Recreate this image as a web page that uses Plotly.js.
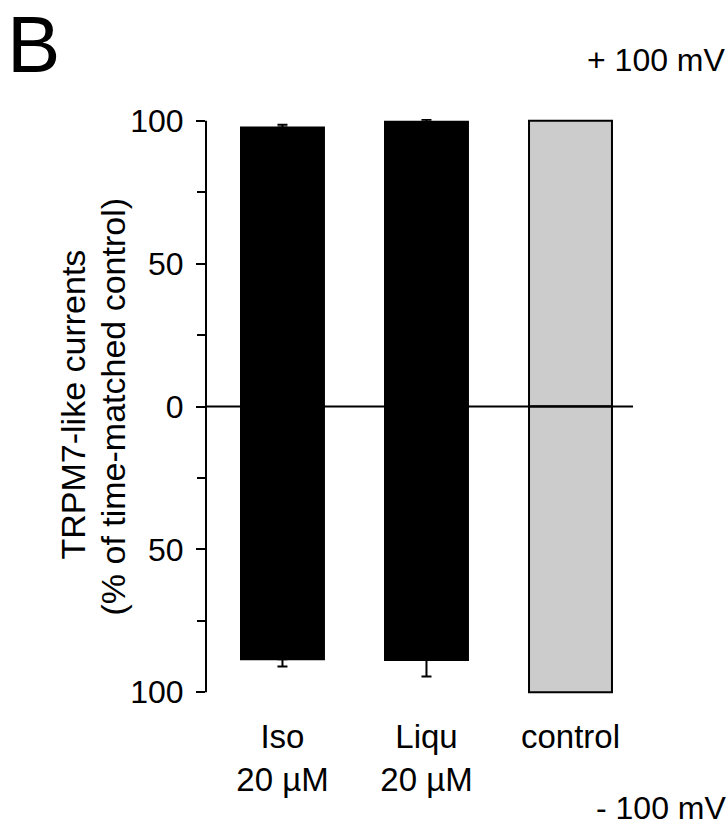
<!DOCTYPE html>
<html>
<head>
<meta charset="utf-8">
<script src="https://cdn.plot.ly/plotly-3.0.1.min.js"></script>
<style>html,body{margin:0;padding:0;background:#fff;}#chart{width:728px;height:828px;}</style>
</head>
<body>
<div id="chart"></div>
<script>
// ---- data ----
const categories = ['Iso', 'Liqu', 'control'];
const doses = ['20 µM', '20 µM', ''];
const upperMean = [97.6, 99.6, 100];      // % at +100 mV
const upperErr = [1.0, 0.8, 0];
const lowerMean = [-88.4, -88.7, -100];   // % at -100 mV (plotted downward)
const lowerErr = [2.6, 5.8, 0];
const barColors = ['#000000', '#000000', '#cccccc'];
const yTickVals = [-100, -50, 0, 50, 100];
const yTickText = ['100', '50', '0', '50', '100'];
const yMinorVals = [-75, -25, 25, 75];
const yTitleLines = ['TRPM7-like currents', '(% of time-matched control)'];

const FONT = 'Liberation Sans, Arial, sans-serif';
const nT = 2; // treated groups (with error bars); last one is control

function barTrace(idx, y, errUp, errDown) {
  const t = {
    type: 'bar', x: idx.map(i => categories[i]), y: idx.map(i => y[i]),
    width: 0.576, cliponaxis: false,
    marker: {color: idx.map(i => barColors[i]), line: {color: '#000', width: 2}},
    showlegend: false, hoverinfo: 'skip'
  };
  if (errUp) {
    t.error_y = {type: 'data', symmetric: false,
                 array: idx.map(i => errUp[i]), arrayminus: idx.map(i => errDown[i]),
                 color: '#000', thickness: 2, width: 5};
  }
  return t;
}
const treated = categories.map((_, i) => i).slice(0, nT);
const control = categories.map((_, i) => i).slice(nT);
const noErr = categories.map(() => 0);

const traces = [
  barTrace(treated, upperMean, upperErr, noErr),
  barTrace(treated, lowerMean, noErr, lowerErr),
  barTrace(control, upperMean, null, null),
  barTrace(control, lowerMean, null, null)
];

const layout = {
  width: 728, height: 828,
  margin: {l: 206, r: 95, t: 119, b: 134},
  paper_bgcolor: '#fff', plot_bgcolor: '#fff',
  font: {family: FONT, size: 32, color: '#000'},
  barmode: 'overlay',
  showlegend: false,
  xaxis: {
    type: 'category',
    categoryorder: 'array', categoryarray: categories,
    range: [-0.531, 2.434],
    showline: false, showgrid: false, zeroline: false, ticks: '',
    tickmode: 'array', tickvals: categories,
    ticktext: categories.map((c, i) => doses[i] ? c + '<br>' + doses[i] : c),
    tickfont: {family: FONT, size: 33, color: '#000'},
    ticklabelstandoff: 20
  },
  yaxis: {
    range: [-100.6, 100.6],
    showline: false,
    showgrid: false, zeroline: false,
    ticks: 'outside', ticklen: 9, tickwidth: 2, tickcolor: '#000',
    tickmode: 'array', tickvals: yTickVals, ticktext: yTickText,
    tickfont: {family: FONT, size: 32, color: '#000'},
    ticklabelstandoff: 6,
    minor: {tickmode: 'array', tickvals: yMinorVals, ticks: 'outside', ticklen: 8, tickwidth: 2, tickcolor: '#000'}
  },
  shapes: [
    // y axis line spanning exactly -100..100
    {type: 'line', xref: 'paper', yref: 'y', x0: 0, x1: 0, y0: -100, y1: 100,
     line: {color: '#000', width: 2}, layer: 'above'},
    // zero line
    {type: 'line', xref: 'paper', yref: 'y', x0: 0, x1: 1, y0: 0, y1: 0,
     line: {color: '#000', width: 2.2}, layer: 'above'}
  ],
  annotations: [
    {text: yTitleLines[0], xref: 'paper', yref: 'paper', x: 0, y: 0.5, xshift: -206 + 72, yshift: 2,
     xanchor: 'center', yanchor: 'middle', textangle: -90, showarrow: false,
     font: {family: FONT, size: 34, color: '#000'}},
    {text: yTitleLines[1], xref: 'paper', yref: 'paper', x: 0, y: 0.5, xshift: -206 + 112, yshift: 0,
     xanchor: 'center', yanchor: 'middle', textangle: -90, showarrow: false,
     font: {family: FONT, size: 34, color: '#000'}},
    {text: 'B', xref: 'paper', yref: 'paper', x: 0, y: 1, xshift: -201, yshift: 121,
     xanchor: 'left', yanchor: 'top', showarrow: false,
     font: {family: FONT, size: 80, color: '#000'}},
    {text: '+ 100 mV', xref: 'paper', yref: 'paper', x: 1, y: 1, xshift: 95, yshift: 59,
     xanchor: 'right', yanchor: 'middle', showarrow: false,
     font: {family: FONT, size: 32, color: '#000'}},
    {text: '- 100 mV', xref: 'paper', yref: 'paper', x: 1, y: 0, xshift: 95, yshift: -114,
     xanchor: 'right', yanchor: 'middle', showarrow: false,
     font: {family: FONT, size: 32, color: '#000'}}
  ]
};

Plotly.newPlot('chart', traces, layout, {displayModeBar: false, staticPlot: true});
</script>
</body>
</html>
